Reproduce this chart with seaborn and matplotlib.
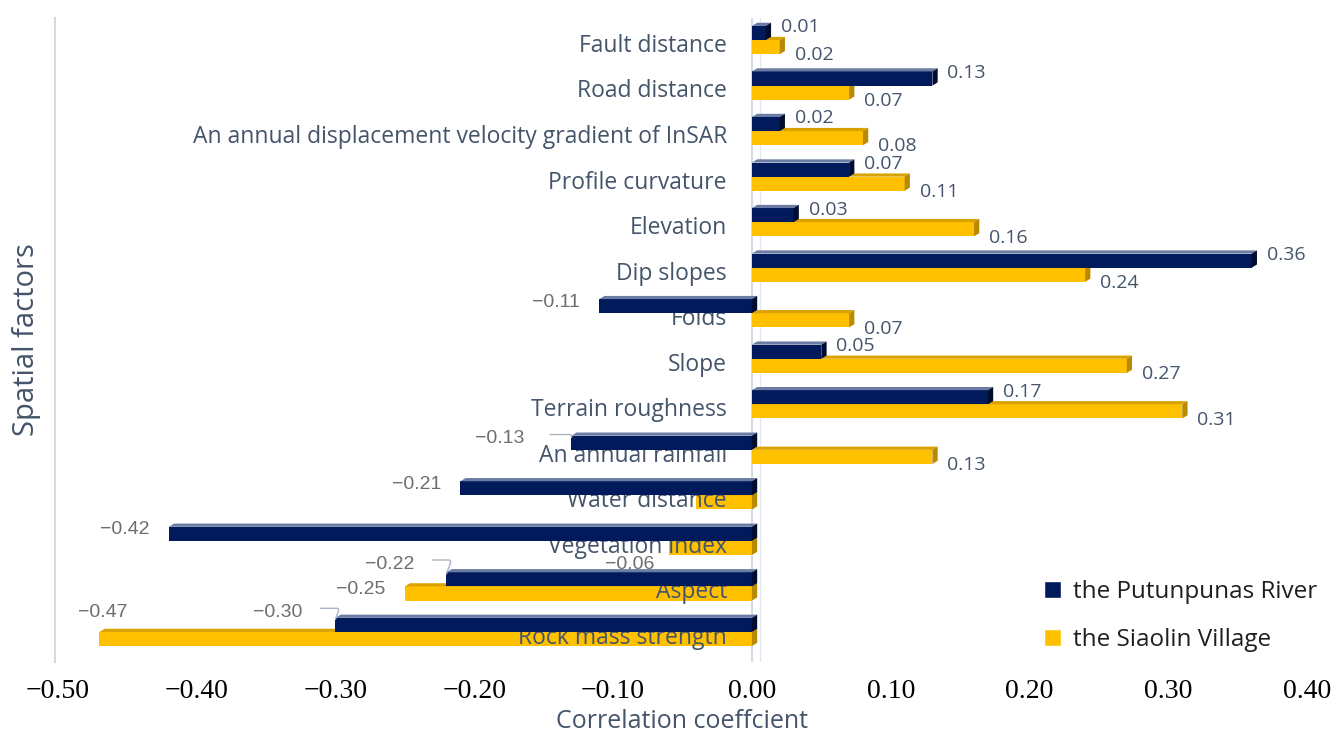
import pandas as pd
import seaborn as sns
import matplotlib.pyplot as plt
import numpy as np
from matplotlib.patches import Polygon
from matplotlib.ticker import FuncFormatter

# data
factors = ['Fault distance', 'Road distance',
           'An annual displacement velocity gradient of InSAR',
           'Profile curvature', 'Elevation', 'Dip slopes', 'Folds', 'Slope',
           'Terrain roughness', 'An annual rainfall', 'Water distance',
           'Vegetation index', 'Aspect', 'Rock mass strength']
putunpunas = [0.01, 0.13, 0.02, 0.07, 0.03, 0.36, -0.11, 0.05, 0.17,
              -0.13, -0.21, -0.42, -0.22, -0.30]
siaolin = [0.02, 0.07, 0.08, 0.11, 0.16, 0.24, 0.07, 0.27, 0.31,
           0.13, -0.04, -0.06, -0.25, -0.47]
series = ['the Putunpunas River', 'the Siaolin Village']
# value labels that are not visible in the original
hidden = {(1, 'Water distance')}

navy, gold = '#001a5c', '#ffc000'
slate = '#44546a'

df = pd.DataFrame({
    'factor': factors * 2,
    'series': [series[0]] * len(factors) + [series[1]] * len(factors),
    'value': putunpunas + siaolin,
})

sns.set_theme(style='white')
plt.rcParams['font.family'] = ['Open Sans', 'DejaVu Sans']

fig = plt.figure(figsize=(13.36, 7.37), dpi=100)
ax = fig.add_axes([55 / 1336, 1 - 662 / 737, 1255 / 1336, 644 / 737])

sns.barplot(data=df, y='factor', x='value', hue='series', order=factors,
            hue_order=series, orient='h', palette=[navy, gold],
            saturation=1, width=0.62, ax=ax, legend=True)

ax.set_xlim(-0.502, 0.402)
ax.set_ylim(13.66, -0.484)

# fake 3D look: top face + end face for each bar
dx, dy = 0.0038, 0.07
faces = [('#6a7ca3', '#000c30'), ('#d9a200', '#b98900')]
for k, cont in enumerate(ax.containers):
    top_c, side_c = faces[k]
    z = 3 if k == 0 else 2
    for p in cont.patches:
        p.set_zorder(z)
        p.set_edgecolor('none')
        x0 = min(p.get_x(), p.get_x() + p.get_width())
        x1 = max(p.get_x(), p.get_x() + p.get_width())
        yt = p.get_y()
        yb = yt + p.get_height()
        ax.add_patch(Polygon([(x0, yt), (x0 + dx, yt - dy), (x1 + dx, yt - dy), (x1, yt)],
                             closed=True, fc=top_c, ec='none', zorder=z))
        ax.add_patch(Polygon([(x1, yt), (x1 + dx, yt - dy), (x1 + dx, yb - dy), (x1, yb)],
                             closed=True, fc=side_c, ec='none', zorder=z))

# value labels
special = {  # (series, factor): offset in points (dx, dy) from bar start
    (0, 'An annual rainfall'): (-34, 3),
    (0, 'Aspect'): (-23, 11),
    (0, 'Rock mass strength'): (-24, 9),
    (1, 'Rock mass strength'): (20, 19),
    (1, 'Vegetation index'): (-10, -12),
}
for k, cont in enumerate(ax.containers):
    vals = putunpunas if k == 0 else siaolin
    for p, v, name in zip(cont.patches, vals, factors):
        if (k, name) in hidden:
            continue
        yc = p.get_y() + p.get_height() / 2
        txt = f'{v:.2f}'.replace('-', '\u2212')
        if v >= 0:
            off = (7, 4) if k == 0 else (7, -6)
            ax.annotate(txt, (v + dx, yc), xytext=off, textcoords='offset points',
                        ha='left', va='center', fontsize=14, color=slate, zorder=6)
        else:
            off = special.get((k, name), (-14, 3))
            ax.annotate(txt, (v, yc), xytext=off, textcoords='offset points',
                        ha='right', va='center', fontsize=14, color='#6e6e6e',
                        family=['Liberation Sans', 'DejaVu Sans'], zorder=6)
            if (k, name) in special and k == 0:
                ax.annotate('', (v, yc - 0.12), xytext=(off[0] * 0.45, off[1] - 1),
                            textcoords='offset points',
                            arrowprops=dict(arrowstyle='-', color='#a9b4c2', lw=1,
                                            shrinkA=0, shrinkB=0,
                                            connectionstyle='angle,angleA=0,angleB=70,rad=3'))

# category labels sit inside the plot, right aligned just left of zero
for i, name in enumerate(factors):
    ax.text(-0.018, i + 0.13, name, ha='right', va='center', fontsize=16.5,
            color=slate, zorder=2.5)

ax.set_yticks([])
ax.set_ylabel('Spatial factors', fontsize=21, color=slate, labelpad=10)
ax.set_xlabel('Correlation coeffcient', fontsize=18, color=slate, labelpad=4)
ax.set_xticks(np.arange(-0.5, 0.41, 0.1))
ax.xaxis.set_major_formatter(
    FuncFormatter(lambda x, pos: f'{round(x, 2) + 0.0:.2f}'.replace('-', '\u2212')))
for lab in ax.get_xticklabels():
    lab.set_family(['Liberation Serif', 'DejaVu Serif'])
    lab.set_fontsize(20)
    lab.set_color('black')
ax.tick_params(axis='x', length=0, pad=12)

for s in ['top', 'right', 'bottom']:
    ax.spines[s].set_visible(False)
ax.spines['left'].set_color('#d5dbe5')
ax.spines['left'].set_linewidth(1.5)
ax.axvline(0, color='#d5dbe5', lw=1.5, zorder=1)
ax.axvline(0.006, color='#e3e7ee', lw=1, zorder=1)

h, l = ax.get_legend_handles_labels()
ax.legend_.remove()
fig.legend(h, l, loc='upper left', bbox_to_anchor=(1022 / 1336, 1 - 558 / 737),
           frameon=False, fontsize=17.5, handlelength=0.7, handleheight=0.7,
           handletextpad=0.5, labelspacing=1.0, labelcolor='#1f1f1f')

fig.savefig('out.png', dpi=100)
